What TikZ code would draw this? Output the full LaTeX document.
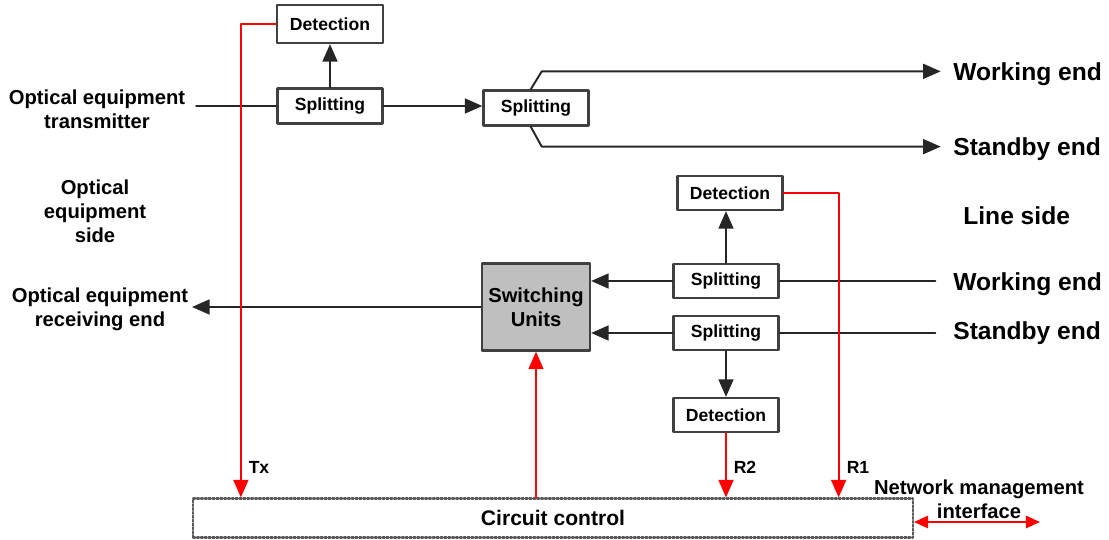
\documentclass[tikz,border=0pt]{standalone}
\usepackage{fontspec}
\setmainfont{Liberation Sans}
\usetikzlibrary{arrows.meta,calc,positioning}

\begin{document}
\begin{tikzpicture}[x=0.02cm,y=-0.02cm,line cap=round,line join=round,>={Triangle[length=10pt,width=8.5pt]},
  blk/.style={draw=black!75,line width=1.3pt,fill=white,inner sep=0pt,font=\bfseries\fontsize{10}{12}\selectfont,minimum width=2.1cm,minimum height=0.7cm},
  lbl/.style={font=\bfseries\fontsize{11.5}{13.7}\selectfont,align=center,inner sep=2pt},
  endlbl/.style={font=\bfseries\fontsize{14}{16}\selectfont,anchor=base west,inner sep=0pt},
  tag/.style={font=\bfseries\fontsize{10}{12}\selectfont,inner sep=0pt},
  sig/.style={line width=1.1pt,black!85},
  ctl/.style={line width=1.1pt,red}]
\useasboundingbox (0,0) rectangle (1109,540);

% transmit side
\node[blk,minimum width=2.12cm,minimum height=0.76cm] (det1) at (330,24) {Detection};
\node[blk] (split1) at (330,106) {Splitting};
\node[blk] (split2) at (536,108) {Splitting};
\node[lbl] (oet) at (97,109) {Optical equipment\\transmitter};
\node[endlbl] (wend1) at (953,81) {Working end};
\node[endlbl] (send1) at (953,156) {Standby end};

\draw[sig,shorten <=4pt] (split1.west -| oet.east) -- (split1.west);
\draw[sig,->] (split1.east) -- (split1.east -| split2.west);
\draw[sig,->] (split1.north) -- (det1.south);
\draw[sig,->,shorten >=7pt] ([xshift=-3pt]split2.north) -- ++(11,-18) coordinate (b1) -- (b1 -| wend1.west);
\draw[sig,->,shorten >=7pt] ([xshift=-3pt]split2.south) -- ++(11,20) coordinate (b2) -- (b2 -| send1.west);

% side labels
\node[lbl] (oes) at (95,211) {Optical\\equipment\\side};
\node[endlbl] (lside) at (963,225) {Line side};

% receive side
\node[blk,minimum height=0.68cm] (det2) at (730,193) {Detection};
\node[blk,minimum height=0.68cm] (split3) at (726,281) {Splitting};
\node[blk,minimum height=0.68cm] (split4) at (726,333) {Splitting};
\node[blk,minimum height=0.68cm] (det3) at (726,415) {Detection};
\node[blk,fill=black!25,minimum width=2.16cm,minimum height=1.74cm,font=\bfseries\fontsize{11.5}{13.5}\selectfont,align=center] (sw) at (536,307) {Switching\\Units};
\node[lbl] (oer) at (100,309) {Optical equipment\\receiving end};
\node[endlbl] (wend2) at (953,291) {Working end};
\node[endlbl] (send2) at (953,340) {Standby end};

\draw[sig,shorten >=10pt] (split3.east) -- (split3.east -| wend2.west);
\draw[sig,shorten >=10pt] (split4.east) -- (split4.east -| send2.west);
\draw[sig,->] (split3.west) -- (split3.west -| sw.east);
\draw[sig,->] (split4.west) -- (split4.west -| sw.east);
\draw[sig,->] (split3.north) -- (split3.north |- det2.south);
\draw[sig,->] (split4.south) -- (det3.north);
\draw[sig,->] (sw.west) -- (sw.west -| oer.east);

% control
\node[draw=black!65,densely dotted,line width=1.2pt,minimum width=14.4cm,minimum height=0.78cm,font=\bfseries\fontsize{12}{14}\selectfont,inner sep=0pt] (cc) at (553,518) {Circuit control};
\draw[ctl,->] (det1.west) -- ++(-35,0) coordinate (tx) -- (tx |- cc.north);
\draw[ctl,->] (det2.east) -- ++(55,0) coordinate (r1) -- (r1 |- cc.north);
\draw[ctl,->] (det3.south) -- (det3.south |- cc.north);
\draw[ctl,->] (sw.south |- cc.north) -- (sw.south);
\node[tag] (txl) at (259,467) {Tx};
\node[tag] (r2l) at (745,467) {R2};
\node[tag] (r1l) at (858,467) {R1};

\node[lbl,inner sep=0pt] (nmt) at (979,499) {Network management\\interface};
\coordinate (nmi) at (1040,522);
\draw[ctl,<->,>={Triangle[length=8pt,width=7pt]}] (cc.east |- nmi) -- (nmi);
\end{tikzpicture}
\end{document}
